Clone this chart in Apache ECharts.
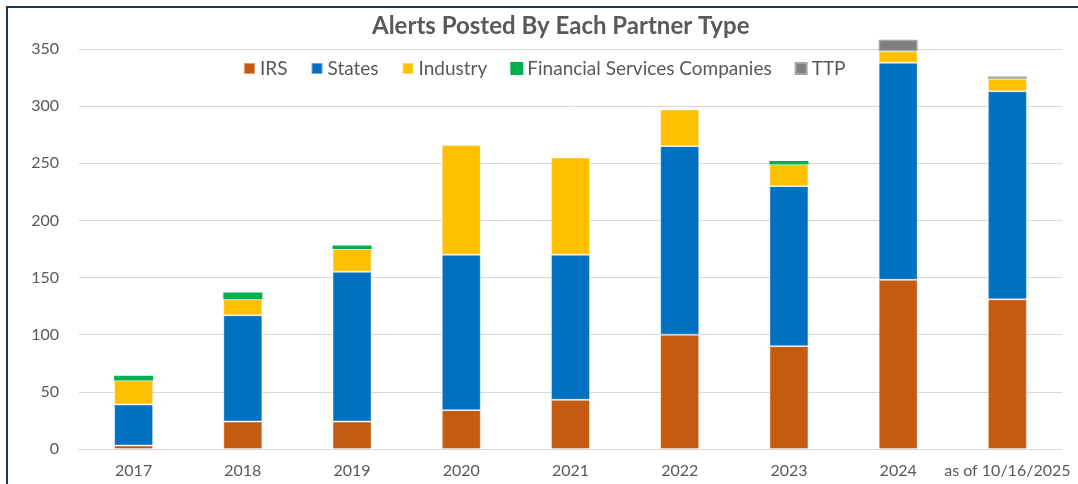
<!DOCTYPE html>
<html>
<head>
<meta charset="utf-8">
<title>Alerts Posted By Each Partner Type</title>
<script src="https://cdn.jsdelivr.net/npm/echarts@6/dist/echarts.min.js"></script>
<style>
  html, body { margin: 0; padding: 0; background: #fff; }
  #main { width: 1078px; height: 484px; }
</style>
</head>
<body>
<div id="main"></div>
<script>
// categories and stacked values
var years = ['2017', '2018', '2019', '2020', '2021', '2022', '2023', '2024', 'as of 10/16/2025']
var irs = [3, 24, 24, 34, 43, 100, 90, 148, 131]
var states = [36, 93, 131, 136, 127, 165, 140, 190, 182]
var industry = [21, 14, 20, 96, 85, 32, 19, 10, 11]
var financial = [4, 6, 3, null, null, null, 3, null, null]
var ttp = [null, null, null, null, null, null, null, 10, 2]
var yTicks = [0, 50, 100, 150, 200, 250, 300, 350]

var textColor = '#595959'
var font = 'Lato'

var myChart = echarts.init(document.getElementById('main'))

function stackBar(name, data, color, border, bw) {
    return {
        name: name,
        type: 'bar',
        stack: 'total',
        data: data,
        barWidth: 39,
        clip: false,
        itemStyle: {
            color: color,
            borderColor: border,
            borderWidth: bw
        }
    }
}

var option = {
    animation: false,
    title: {
        text: 'Alerts Posted By Each Partner Type',
        left: 372,
        top: 14,
        padding: 0,
        textStyle: {
            color: textColor,
            fontFamily: font,
            fontWeight: 'bold',
            fontSize: 24
        }
    },
    legend: {
        left: 243,
        top: 59,
        padding: 0,
        itemWidth: 11,
        itemHeight: 11,
        itemGap: 23,
        icon: 'rect',
        textStyle: {
            color: textColor,
            fontFamily: font,
            fontSize: 19
        },
        data: ['IRS', 'States', 'Industry', 'Financial Services Companies', 'TTP']
    },
    grid: {
        left: 79,
        right: 16,
        top: 49,
        bottom: 35
    },
    xAxis: {
        type: 'category',
        data: years,
        axisLine: { lineStyle: { color: '#d9d9d9', width: 1 } },
        axisTick: { show: false },
        axisLabel: {
            interval: 0,
            color: textColor,
            fontFamily: font,
            fontSize: 16,
            margin: 14
        }
    },
    yAxis: {
        type: 'value',
        min: yTicks[0],
        max: yTicks[yTicks.length - 1],
        interval: 50,
        axisLine: { show: false },
        axisTick: { show: false },
        splitLine: { lineStyle: { color: '#d9d9d9', width: 1 } },
        axisLabel: {
            color: textColor,
            fontFamily: font,
            fontSize: 16,
            margin: 20
        }
    },
    // outer frame, cut off on the right and bottom like the screenshot
    graphic: [{
        type: 'rect',
        shape: { x: 7, y: 7, width: 1200, height: 600 },
        style: { fill: null, stroke: '#1f3550', lineWidth: 2 },
        silent: true
    }],
    series: [
        stackBar('IRS', irs, '#C55A11', 'rgba(255,255,255,0.4)', 1),
        stackBar('States', states, '#0070C0', 'rgba(255,255,255,0.4)', 1),
        stackBar('Industry', industry, '#FFC000', 'rgba(255,255,255,0.4)', 1),
        stackBar('Financial Services Companies', financial, '#00B050', '#00B050', 2.5),
        stackBar('TTP', ttp, '#7F7F7F', '#a6a6a6', 1.5)
    ]
}
myChart.setOption(option)
</script>
</body>
</html>
